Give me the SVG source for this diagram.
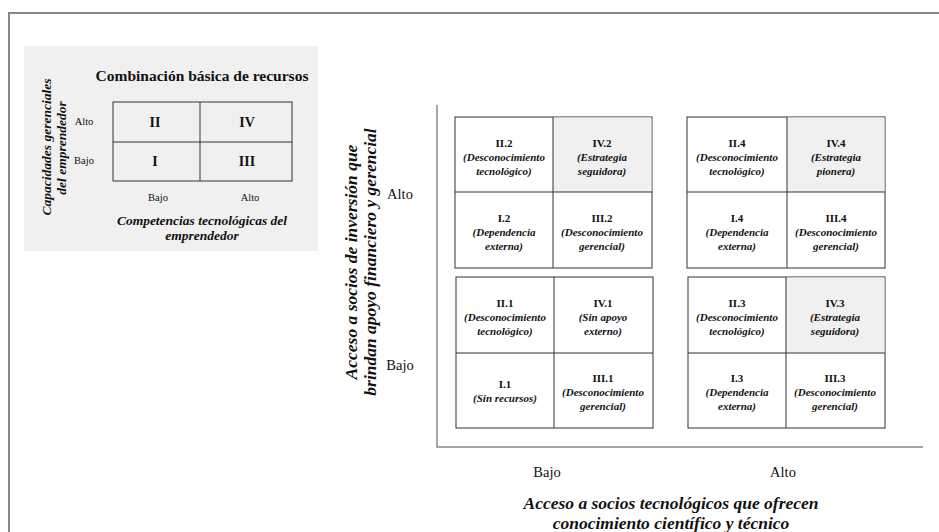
<svg xmlns="http://www.w3.org/2000/svg" width="939" height="532" viewBox="0 0 939 532">
<style>
text{font-family:"Liberation Serif","Times New Roman",serif;fill:#111;text-anchor:middle}
.t{font-weight:bold;font-size:11px}
.s{font-weight:bold;font-style:italic;font-size:11px}
.ax{font-size:14.5px}
.ax2{font-size:10.5px}
.lab{font-weight:bold;font-style:italic;font-size:17.5px}
.lab2{font-weight:bold;font-style:italic;font-size:13.5px}
.rn{font-weight:bold;font-size:14px}
.cell{fill:#fff;stroke:#333;stroke-width:1}
.g{fill:#f0f0f0}
.line{stroke:#333;stroke-width:1;fill:none}
.axis{stroke:#8a8a8a;stroke-width:1.5;fill:none}
</style>
<rect width="939" height="532" fill="#fff"/>
<path d="M9 532 V13 H939" stroke="#888" stroke-width="2" fill="none"/>

<g id="inset">
<rect x="24" y="46" width="294" height="205" fill="#f0f0f0"/>
<text x="202" y="81" style="font-weight:bold;font-size:15.5px">Combinación  básica de recursos</text>
<rect x="113" y="102" width="179" height="79" fill="none" stroke="#333" stroke-width="1"/>
<line class="line" x1="200" y1="102" x2="200" y2="181"/>
<line class="line" x1="113" y1="142" x2="292" y2="142"/>
<text class="rn" x="155" y="127">II</text>
<text class="rn" x="247" y="127">IV</text>
<text class="rn" x="155" y="166">I</text>
<text class="rn" x="247" y="166">III</text>
<text class="ax2" x="84" y="125">Alto</text>
<text class="ax2" x="84" y="164">Bajo</text>
<text class="ax2" x="158" y="201">Bajo</text>
<text class="ax2" x="250" y="201">Alto</text>
<text class="lab2" x="202" y="225">Competencias tecnológicas del</text>
<text class="lab2" x="202" y="240">emprendedor</text>
<text class="lab2" transform="translate(51 147) rotate(-90)">Capacidades gerenciales</text>
<text class="lab2" transform="translate(66 148) rotate(-90)">del emprendedor</text>
</g>

<g id="axes">
<path class="axis" d="M437 105 V447 H923"/>
</g>

<g id="labels">
<text class="ax" x="400" y="199">Alto</text>
<text class="ax" x="400" y="370">Bajo</text>
<text class="ax" x="547" y="477">Bajo</text>
<text class="ax" x="783" y="477">Alto</text>
<text class="lab" x="671" y="509">Acceso a socios tecnológicos que ofrecen</text>
<text class="lab" x="671" y="529">conocimiento científico y técnico</text>
<text class="lab" transform="translate(357 262) rotate(-90)">Acceso a socios de inversión que</text>
<text class="lab" transform="translate(376 262) rotate(-90)">brindan apoyo financiero y gerencial</text>
</g>

<g id="grid2">
<rect class="cell" x="455" y="117" width="197" height="151"/>
<rect class="g" x="553" y="117.5" width="98.5" height="74.5"/>
<line class="line" x1="553" y1="117" x2="553" y2="268"/>
<line class="line" x1="455" y1="192" x2="652" y2="192"/>
<text class="t" x="504" y="147">II.2</text>
<text class="s" x="504" y="161">(Desconocimiento</text>
<text class="s" x="504" y="175">tecnológico)</text>
<text class="t" x="602" y="147">IV.2</text>
<text class="s" x="602" y="161">(Estrategia</text>
<text class="s" x="602" y="175">seguidora)</text>
<text class="t" x="504" y="222">I.2</text>
<text class="s" x="504" y="236">(Dependencia</text>
<text class="s" x="504" y="250">externa)</text>
<text class="t" x="602" y="222">III.2</text>
<text class="s" x="602" y="236">(Desconocimiento</text>
<text class="s" x="602" y="250">gerencial)</text>
</g>

<g id="grid4">
<rect class="cell" x="687" y="117" width="198" height="151"/>
<rect class="g" x="787" y="117.5" width="97.5" height="74.5"/>
<line class="line" x1="787" y1="117" x2="787" y2="268"/>
<line class="line" x1="687" y1="192" x2="885" y2="192"/>
<text class="t" x="737" y="147">II.4</text>
<text class="s" x="737" y="161">(Desconocimiento</text>
<text class="s" x="737" y="175">tecnológico)</text>
<text class="t" x="836" y="147">IV.4</text>
<text class="s" x="836" y="161">(Estrategia</text>
<text class="s" x="836" y="175">pionera)</text>
<text class="t" x="737" y="222">I.4</text>
<text class="s" x="737" y="236">(Dependencia</text>
<text class="s" x="737" y="250">externa)</text>
<text class="t" x="836" y="222">III.4</text>
<text class="s" x="836" y="236">(Desconocimiento</text>
<text class="s" x="836" y="250">gerencial)</text>
</g>

<g id="grid1">
<rect class="cell" x="456" y="277" width="197" height="151"/>
<line class="line" x1="554" y1="277" x2="554" y2="428"/>
<line class="line" x1="456" y1="353" x2="653" y2="353"/>
<text class="t" x="505" y="307">II.1</text>
<text class="s" x="505" y="321">(Desconocimiento</text>
<text class="s" x="505" y="335">tecnológico)</text>
<text class="t" x="603" y="307">IV.1</text>
<text class="s" x="603" y="321">(Sin apoyo</text>
<text class="s" x="603" y="335">externo)</text>
<text class="t" x="505" y="388">I.1</text>
<text class="s" x="505" y="402">(Sin recursos)</text>
<text class="t" x="603" y="382">III.1</text>
<text class="s" x="603" y="396">(Desconocimiento</text>
<text class="s" x="603" y="410">gerencial)</text>
</g>

<g id="grid3">
<rect class="cell" x="688" y="277" width="197" height="151"/>
<rect class="g" x="786" y="277.5" width="98.5" height="75.5"/>
<line class="line" x1="786" y1="277" x2="786" y2="428"/>
<line class="line" x1="688" y1="353" x2="885" y2="353"/>
<text class="t" x="737" y="307">II.3</text>
<text class="s" x="737" y="321">(Desconocimiento</text>
<text class="s" x="737" y="335">tecnológico)</text>
<text class="t" x="835" y="307">IV.3</text>
<text class="s" x="835" y="321">(Estrategia</text>
<text class="s" x="835" y="335">seguidora)</text>
<text class="t" x="737" y="382">I.3</text>
<text class="s" x="737" y="396">(Dependencia</text>
<text class="s" x="737" y="410">externa)</text>
<text class="t" x="835" y="382">III.3</text>
<text class="s" x="835" y="396">(Desconocimiento</text>
<text class="s" x="835" y="410">gerencial)</text>
</g>
</svg>
